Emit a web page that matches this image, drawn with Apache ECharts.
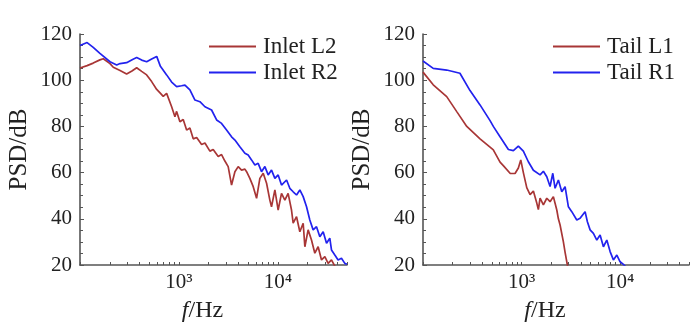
<!DOCTYPE html>
<html>
<head>
<meta charset="utf-8">
<script src="https://cdn.jsdelivr.net/npm/echarts@6/dist/echarts.min.js"></script>
<style>
	html, body { margin: 0; padding: 0; background: #fff; }
	#chart { width: 700px; height: 328px; }
</style>
</head>
<body>
<div id="chart"></div>
<script>
	// 频率 (Hz) 和 PSD (dB)
	const inletL2Freq = [100, 118, 136, 159, 172, 201, 217, 254, 296, 335, 374, 420, 472, 530, 596, 644, 694, 751, 844, 911, 948, 1023, 1105, 1196, 1291, 1395, 1510, 1696, 1832, 2056, 2220, 2495, 2698, 2915, 3031, 3147, 3405, 3681, 3972, 4296, 4645, 4830, 5212, 5636, 6095, 6577, 7112, 7691, 8299, 8630, 9333, 10070, 10890, 11770, 12700, 13740, 14280, 15450, 16680, 18030, 18750, 20230, 21880, 23650, 25540, 27620, 29860, 32210, 34840, 37670]
	const inletL2Psd = [105.3, 106.3, 107.4, 108.8, 109.3, 107.2, 105.6, 104.2, 102.7, 104.0, 105.4, 103.8, 102.3, 99.4, 96.0, 94.5, 93.0, 94.3, 88.5, 84.2, 86.5, 82.0, 83.0, 78.4, 79.3, 74.6, 75.2, 72.2, 72.8, 69.3, 70.0, 67.0, 67.8, 65.0, 65.8, 62.6, 54.6, 60.4, 62.6, 61.1, 61.5, 60.4, 57.5, 53.9, 48.9, 57.5, 59.7, 55.4, 48.1, 45.2, 52.5, 43.8, 51.0, 48.1, 51.0, 43.8, 38.1, 40.9, 34.4, 38.1, 27.9, 35.2, 30.8, 25.1, 27.9, 22.2, 23.6, 20.7, 22.2, 19.5]

	const inletR2Freq = [100, 118, 136, 159, 201, 235, 254, 296, 340, 374, 420, 472, 530, 596, 650, 751, 844, 948, 1064, 1150, 1291, 1452, 1629, 1832, 2138, 2404, 2698, 3031, 3405, 3681, 4130, 4645, 5012, 5420, 5861, 6324, 6839, 7396, 7980, 8630, 9333, 10070, 10890, 12250, 13210, 14280, 15450, 16680, 18030, 19500, 21040, 22740, 24590, 26560, 28710, 31050, 33500, 34840, 37670, 40640, 43950, 47530, 50000]
	const inletR2Psd = [115.0, 116.3, 114.2, 111.6, 108.0, 106.6, 107.2, 107.6, 109.0, 109.8, 108.7, 108.0, 109.2, 110.3, 106.0, 102.3, 99.2, 97.2, 97.6, 97.9, 95.8, 91.4, 90.7, 88.5, 87.1, 82.8, 81.3, 78.4, 75.5, 74.1, 71.2, 68.4, 67.6, 65.5, 63.3, 64.0, 60.4, 62.6, 59.0, 61.1, 57.5, 59.0, 54.6, 56.8, 53.2, 51.7, 50.3, 52.5, 49.6, 45.2, 39.5, 35.2, 36.6, 32.2, 34.4, 29.4, 31.6, 26.5, 24.3, 22.2, 22.9, 20.7, 20.3]

	const tailL1Freq = [100, 127, 174, 220, 278, 379, 479, 517, 605, 653, 764, 859, 928, 982, 1043, 1129, 1220, 1318, 1427, 1481, 1541, 1665, 1803, 1947, 2103, 2188, 2278, 2364, 2460, 2559, 2657, 2765, 2917, 3000]
	const tailL1Psd = [103.5, 98.0, 92.9, 86.4, 80.0, 74.6, 71.0, 69.8, 64.5, 63.0, 59.7, 59.6, 62.0, 65.5, 60.0, 53.5, 50.5, 52.0, 46.8, 44.0, 49.0, 46.0, 48.9, 47.4, 49.6, 46.7, 43.8, 40.0, 37.3, 38.0, 30.0, 25.5, 20.0, 18.0]

	const tailR1Freq = [100, 127, 174, 237, 300, 379, 479, 517, 605, 735, 826, 928, 1043, 1172, 1318, 1541, 1665, 1803, 1947, 2075, 2188, 2364, 2559, 2765, 2987, 3233, 3634, 3926, 4413, 4656, 4960, 5358, 5800, 6266, 6768, 7328, 7916, 8551, 9261, 10000, 10800, 11500]
	const tailR1Psd = [108.3, 105.1, 104.4, 103.0, 95.5, 89.3, 82.5, 80.0, 75.5, 70.0, 69.5, 71.5, 69.3, 64.7, 61.0, 59.0, 60.6, 58.2, 54.0, 59.7, 53.2, 56.8, 51.7, 53.9, 45.2, 43.1, 39.5, 40.2, 43.1, 38.7, 35.2, 33.7, 30.8, 33.0, 27.9, 30.8, 25.8, 22.2, 24.3, 21.4, 20.3, 19.0]

	// 坐标轴刻度
	const xTickValues = [100, 200, 300, 400, 500, 600, 700, 800, 900, 1000, 2000, 3000, 4000, 5000, 6000, 7000, 8000, 9000, 10000, 20000, 30000, 40000, 50000]
	const xLabelValues = [1000, 10000]
	const xLabelText = { 1000: '10³', 10000: '10⁴' }

	const colorL = '#a83636'
	const colorR = '#2222ee'
	const font = 'Liberation Serif'

	const zip = (fs, ps) => fs.map((f, i) => [f, ps[i]])

	function xAxisOf(idx) {
		return {
			type: 'log',
			gridIndex: idx,
			logBase: 10,
			min: 100,
			max: 50000,
			name: '{i|f}/Hz',
			nameLocation: 'middle',
			nameGap: 34,
			nameTextStyle: {
				color: '#222', fontFamily: font, fontSize: 24, padding: [0, 22, 0, 0],
				rich: { i: { fontStyle: 'italic', fontFamily: font, fontSize: 24, color: '#222' } }
			},
			axisLine: { show: true, lineStyle: { color: '#555', width: 1.6 } },
			axisTick: { show: true, inside: true, length: 3, customValues: xTickValues, lineStyle: { color: '#555' } },
			axisLabel: {
				customValues: xLabelValues,
				formatter: v => xLabelText[v] || '',
				color: '#222', fontFamily: font, fontSize: 21, margin: 7
			},
			splitLine: { show: false },
			minorTick: { show: false }
		}
	}

	function yAxisOf(idx) {
		return {
			type: 'value',
			gridIndex: idx,
			min: 20,
			max: 120,
			interval: 20,
			name: 'PSD/dB',
			nameLocation: 'middle',
			nameGap: 48,
			nameTextStyle: { color: '#222', fontFamily: font, fontSize: 25 },
			axisLine: { show: true, lineStyle: { color: '#555', width: 1.6 } },
			axisTick: { show: true, inside: true, length: 4, lineStyle: { color: '#555' } },
			minorTick: { show: true, splitNumber: 4, length: 3, lineStyle: { color: '#555' } },
			axisLabel: { color: '#222', fontFamily: font, fontSize: 21, margin: 8 },
			splitLine: { show: false }
		}
	}

	function lineOf(name, data, color, idx) {
		return {
			name: name,
			type: 'line',
			xAxisIndex: idx,
			yAxisIndex: idx,
			data: data,
			symbol: 'none',
			clip: true,
			lineStyle: { color: color, width: 1.7 },
			itemStyle: { color: color }
		}
	}

	const legendBase = {
		orient: 'vertical',
		icon: 'rect',
		itemWidth: 47,
		itemHeight: 2,
		itemGap: 3,
		textStyle: { color: '#222', fontFamily: font, fontSize: 23, padding: [0, 0, 0, 2] }
	}

	const option = {
		animation: false,
		backgroundColor: '#fff',
		grid: [
			{ left: 80, top: 34, width: 267, height: 231, outerBoundsMode: 'none' },
			{ left: 423, top: 34, width: 266, height: 231, outerBoundsMode: 'none' }
		],
		legend: [
			Object.assign({}, legendBase, { left: 204, top: 30, data: ['Inlet L2', 'Inlet R2'] }),
			Object.assign({}, legendBase, { left: 548, top: 30, data: ['Tail L1', 'Tail R1'] })
		],
		xAxis: [xAxisOf(0), xAxisOf(1)],
		yAxis: [yAxisOf(0), yAxisOf(1)],
		series: [
			lineOf('Inlet L2', zip(inletL2Freq, inletL2Psd), colorL, 0),
			lineOf('Inlet R2', zip(inletR2Freq, inletR2Psd), colorR, 0),
			lineOf('Tail L1', zip(tailL1Freq, tailL1Psd), colorL, 1),
			lineOf('Tail R1', zip(tailR1Freq, tailR1Psd), colorR, 1)
		]
	}

	let chart = echarts.init(document.getElementById('chart'))
	chart.setOption(option)
	window.onresize = () => {
		chart.resize()
	}
</script>
</body>
</html>
